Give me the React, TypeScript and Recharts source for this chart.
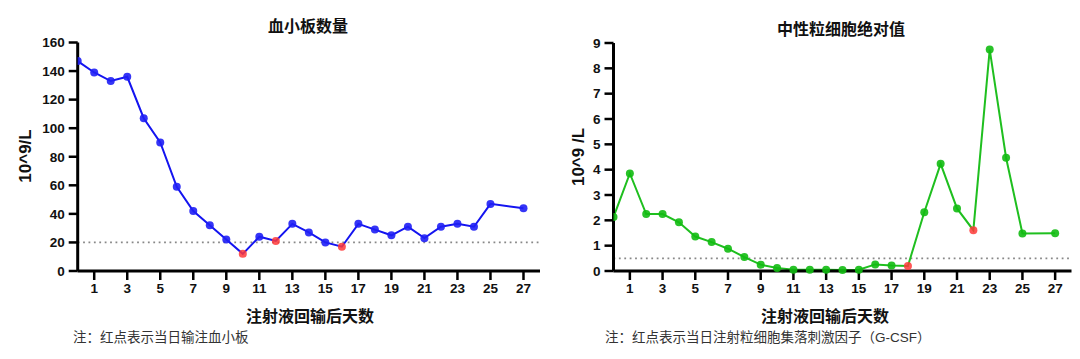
import React from 'react';
import { LineChart, Line, XAxis, YAxis, ReferenceLine } from 'recharts';

// days after infusion (no measurement on day 26)
const days = [0, 1, 2, 3, 4, 5, 6, 7, 8, 9, 10, 11, 12, 13, 14, 15, 16, 17, 18, 19, 20, 21, 22, 23, 24, 25, 27];
const plateletValues = [147, 139, 133, 136, 107, 90, 59, 42, 32, 22, 12, 24, 21, 33, 27, 20, 17, 33, 29, 25, 31, 23, 31, 33, 31, 47, 44];
const neutrophilValues = [2.13, 3.85, 2.25, 2.25, 1.92, 1.36, 1.14, 0.88, 0.55, 0.25, 0.12, 0.05, 0.05, 0.05, 0.04, 0.05, 0.26, 0.22, 0.2, 2.32, 4.23, 2.47, 1.61, 8.74, 4.47, 1.48, 1.49];
// red dots: platelet transfusion / G-CSF injection days
const plateletRedDays = [10, 12, 16];
const neutrophilRedDays = [18, 22];
const xTicks = [1, 3, 5, 7, 9, 11, 13, 15, 17, 19, 21, 23, 25, 27];
const plateletTicks = [0, 20, 40, 60, 80, 100, 120, 140, 160];
const neutrophilTicks = [0, 1, 2, 3, 4, 5, 6, 7, 8, 9];

const FONT = '"Liberation Sans", Arial, "Noto Sans CJK SC", sans-serif';
const tickStyle = { fill: '#111', fontSize: 13.5, fontWeight: 700, fontFamily: FONT };

const plateletData = days.map((d, i) => ({ day: d, value: plateletValues[i], red: plateletRedDays.includes(d) }));
const neutrophilData = days.map((d, i) => ({ day: d, value: neutrophilValues[i], red: neutrophilRedDays.includes(d) }));

function makeDot(color: string) {
  return (props: any) => {
    const { cx, cy, payload, index } = props;
    return (
      <circle
        key={`dot-${index}`}
        cx={cx}
        cy={cy}
        r={4}
        fill={payload.red ? '#ff3838' : color}
        fillOpacity={payload.red ? 0.85 : 0.9}
        stroke="none"
      />
    );
  };
}

function Text({ x, y, size, bold, children, rotate, left }: any) {
  return (
    <div
      style={{
        position: 'absolute',
        left: x,
        top: y,
        transform: `${left ? 'translate(0,-50%)' : 'translate(-50%,-50%)'}${rotate ? ' rotate(-90deg)' : ''}`,
        fontSize: size,
        fontWeight: bold ? 700 : 400,
        fontFamily: FONT,
        color: bold ? '#111' : '#333',
        whiteSpace: 'nowrap',
        lineHeight: 1,
      }}
    >
      {children}
    </div>
  );
}

function Panel({ data, ticks, max, refY, color, lineColor, margin }: any) {
  return (
    <LineChart width={540} height={359} data={data} margin={margin}>
      <XAxis
        dataKey="day"
        type="number"
        domain={[0, 28]}
        ticks={xTicks}
        allowDataOverflow
        axisLine={{ stroke: '#000', strokeWidth: 3 }}
        tickLine={{ stroke: '#000', strokeWidth: 2.5 }}
        tickSize={9}
        tickMargin={3}
        tick={tickStyle}
        height={30}
        interval={0}
      />
      <YAxis
        type="number"
        domain={[0, max]}
        ticks={ticks}
        axisLine={{ stroke: '#000', strokeWidth: 3 }}
        tickLine={{ stroke: '#000', strokeWidth: 2.5 }}
        tickSize={9}
        tickMargin={4}
        tick={tickStyle}
        width={60}
        interval={0}
      />
      <ReferenceLine y={refY} stroke="#888" strokeWidth={1.8} strokeDasharray="1.8 3.6" />
      <Line
        type="linear"
        dataKey="value"
        stroke={lineColor}
        strokeWidth={2}
        dot={makeDot(color)}
        activeDot={false}
        isAnimationActive={false}
      />
    </LineChart>
  );
}

export default function App() {
  return (
    <div style={{ position: 'absolute', left: 0, top: 0, width: 1080, height: 359, background: '#fff', overflow: 'hidden' }}>
      <div style={{ position: 'absolute', left: 0, top: 0 }}>
        <Panel
          data={plateletData}
          ticks={plateletTicks}
          max={160}
          refY={20}
          color="#1f1ff5"
          lineColor="#1414f0"
          margin={{ top: 42.5, right: 0, bottom: 58, left: 17.7 }}
        />
      </div>
      <div style={{ position: 'absolute', left: 540, top: 0 }}>
        <Panel
          data={neutrophilData}
          ticks={neutrophilTicks}
          max={9}
          refY={0.5}
          color="#12bb12"
          lineColor="#1fbf1f"
          margin={{ top: 43, right: 8.5, bottom: 58, left: 13.5 }}
        />
      </div>

      <Text x={308} y={27} size={16} bold>血小板数量</Text>
      <Text x={841} y={30} size={16} bold>中性粒细胞绝对值</Text>
      <Text x={25} y={156} size={17} bold rotate>10^9/L</Text>
      <Text x={578} y={157} size={17} bold rotate>10^9 /L</Text>
      <Text x={310} y={317} size={16} bold>注射液回输后天数</Text>
      <Text x={825} y={317} size={16} bold>注射液回输后天数</Text>
      <Text x={73} y={338} size={13.5} left>注：红点表示当日输注血小板</Text>
      <Text x={605} y={338} size={13.5} left>注：红点表示当日注射粒细胞集落刺激因子（G-CSF）</Text>
    </div>
  );
}
